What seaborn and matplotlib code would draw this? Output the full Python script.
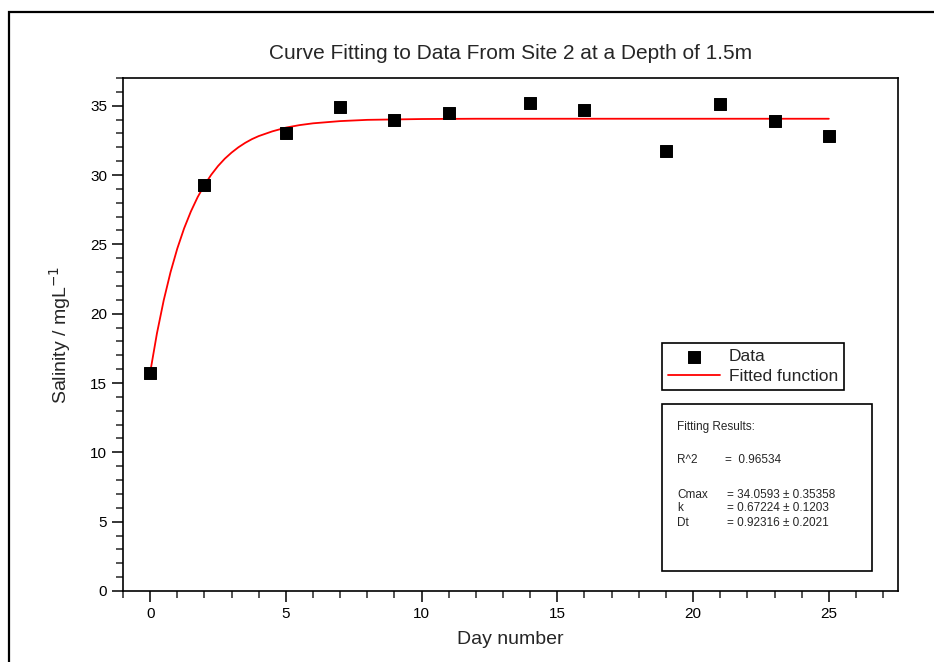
import numpy as np
import matplotlib
matplotlib.use('Agg')
import matplotlib.pyplot as plt
from matplotlib.patches import Rectangle
from matplotlib.ticker import MultipleLocator
import seaborn as sns

# measured data
day = [0, 2, 5, 7, 9, 11, 14, 16, 19, 21, 23, 25]
salinity = [15.7, 29.3, 33.0, 34.9, 34.0, 34.5, 35.2, 34.7, 31.7, 35.1, 33.9, 32.8]

# fitted curve
fit_day = [0, 0.25, 0.5, 0.75, 1, 1.25, 1.5, 1.75, 2, 2.25, 2.5, 2.75, 3, 3.25, 3.5,
           3.75, 4, 4.5, 5, 5.5, 6, 7, 8, 10, 12, 25]
fit_val = [15.75, 18.58, 20.97, 22.99, 24.70, 26.15, 27.37, 28.41, 29.28, 30.02, 30.65,
           31.18, 31.62, 32.00, 32.32, 32.59, 32.81, 33.15, 33.42, 33.60, 33.73, 33.89,
           33.98, 34.04, 34.06, 34.06]

x_ticks = [0, 5, 10, 15, 20, 25]
y_ticks = [0, 5, 10, 15, 20, 25, 30, 35]

result_names = ['Cmax', 'k', 'Dt']
result_values = ['= 34.0593 \u00b1 0.35358', '= 0.67224 \u00b1 0.1203', '= 0.92316 \u00b1 0.2021']
r2_text = '=  0.96534'

sns.set_theme(style='ticks')
plt.rcParams['font.family'] = ['Liberation Sans Narrow', 'Liberation Sans', 'DejaVu Sans']

fig = plt.figure(figsize=(9.34, 6.62), dpi=100)
fig.patch.set_facecolor('white')
ax = fig.add_axes([0.1317, 0.1073, 0.8298, 0.7749])

sns.scatterplot(x=day, y=salinity, marker='s', color='black', edgecolor='black',
                s=75, label='Data', ax=ax, zorder=3)
sns.lineplot(x=fit_day, y=fit_val, color='red', linewidth=1.3, label='Fitted function', ax=ax, zorder=2)

ax.set_xlim(-1, 27.55)
ax.set_ylim(0, 37)
ax.set_xticks(x_ticks)
ax.set_yticks(y_ticks)
ax.xaxis.set_minor_locator(MultipleLocator(1))
ax.yaxis.set_minor_locator(MultipleLocator(1))
ax.tick_params(which='major', direction='out', length=8, width=1.1, labelsize=11, colors='black')
ax.tick_params(which='minor', direction='out', length=5, width=1.1)
for sp in ax.spines.values():
    sp.set_linewidth(1.2)
    sp.set_color('black')

ax.set_title('Curve Fitting to Data From Site 2 at a Depth of 1.5m', fontsize=15, pad=14)
ax.set_xlabel('Day number', fontsize=14, labelpad=7)
ax.set_ylabel('Salinity / mgL$^{-1}$', fontsize=14, labelpad=12)

leg = ax.legend(loc='upper left', bbox_to_anchor=(0.6955, 0.4834), borderaxespad=0,
                fancybox=False, edgecolor='black', framealpha=1, fontsize=12.5,
                handlelength=3, borderpad=0.35, labelspacing=0.25, handletextpad=0.5)
leg.get_frame().set_linewidth(1.2)

# fitting results box
ax.add_patch(Rectangle((0.6955, 0.039), 0.271, 0.3255, transform=ax.transAxes,
                       facecolor='white', edgecolor='black', linewidth=1.2, zorder=4))
fs = 8.5
ax.text(0.715, 0.3197, 'Fitting Results:', transform=ax.transAxes, fontsize=fs, va='center', zorder=5)
ax.text(0.715, 0.2554, 'R^2', transform=ax.transAxes, fontsize=fs, va='center', zorder=5)
ax.text(0.777, 0.2554, r2_text, transform=ax.transAxes, fontsize=fs, va='center', zorder=5)
for yy, name, val in zip([0.1871, 0.1618, 0.1326], result_names, result_values):
    ax.text(0.715, yy, name, transform=ax.transAxes, fontsize=fs, va='center', zorder=5)
    ax.text(0.779, yy, val, transform=ax.transAxes, fontsize=fs, va='center', zorder=5)

# outer frame, cut off at right and bottom
fig.add_artist(Rectangle((9 / 934, -0.1), 1.2, 1.1 - 12 / 662, transform=fig.transFigure,
                         facecolor='none', edgecolor='black', linewidth=1.6))

fig.savefig('out.png', dpi=100)
